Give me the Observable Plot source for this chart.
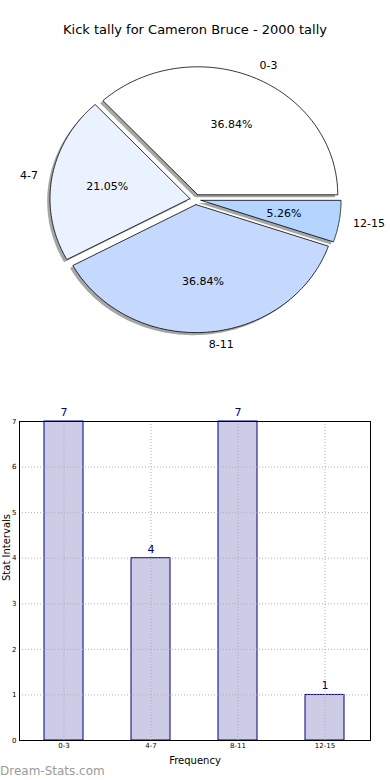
<!DOCTYPE html>
<html><head><meta charset="utf-8">
<script src="https://cdn.jsdelivr.net/npm/d3@7"></script>
<script src="https://cdn.jsdelivr.net/npm/@observablehq/plot@0.6"></script>
<style>
body{margin:0;width:390px;height:780px;background:#fff;font-family:"DejaVu Sans",sans-serif;position:relative;overflow:hidden}
#title{height:40px;text-align:center;font-size:13px;line-height:20px;padding-top:20px;box-sizing:border-box;color:#000}
#wm{position:absolute;left:0;top:763px;font-size:12px;line-height:16px;color:#9a9a9a}
svg{display:block}
</style></head><body>
<div id="title">Kick tally for Cameron Bruce - 2000 tally</div>
<div id="pie"></div>
<div id="bar"></div>
<div id="wm">Dream-Stats.com</div>
<script>
// ---- data ----
const categories = ["0-3", "4-7", "8-11", "12-15"];
const values = [7, 4, 7, 1];
const sliceColors = ["#ffffff", "#eaf2ff", "#c5d9ff", "#b3d5ff"];
const yTicks = [0, 1, 2, 3, 4, 5, 6, 7];

// ---- pie geometry (matplotlib-style: start at east, counter-clockwise) ----
const total = d3.sum(values);
const explode = 0.04;
const slices = [];
let cum = 0;
categories.forEach((c, i) => {
  const a0 = 2 * Math.PI * cum / total;
  cum += values[i];
  const a1 = 2 * Math.PI * cum / total;
  const mid = (a0 + a1) / 2;
  slices.push({cat: c, value: values[i], a0, a1, mid,
    ox: explode * Math.cos(mid), oy: explode * Math.sin(mid)});
});
function slicePoints(s, dx, dy) {
  const pts = [{cat: s.cat, x: s.ox + dx, y: s.oy + dy}];
  const n = 120;
  for (let k = 0; k <= n; k++) {
    const t = s.a0 + (s.a1 - s.a0) * k / n;
    pts.push({cat: s.cat, x: s.ox + dx + Math.cos(t), y: s.oy + dy + Math.sin(t)});
  }
  pts.push({cat: s.cat, x: s.ox + dx, y: s.oy + dy});
  return pts;
}
const slicePts = slices.flatMap(s => slicePoints(s, 0, 0));
const shadowPts = slices.flatMap(s => slicePoints(s, -0.02, -0.02));
const labels = slices.map(s => ({cat: s.cat,
  x: s.ox + 1.1 * Math.cos(s.mid), y: s.oy + 1.1 * Math.sin(s.mid), right: Math.cos(s.mid) >= 0}));
const pcts = slices.map(s => ({text: (100 * s.value / total).toFixed(2) + "%",
  x: s.ox + 0.6 * Math.cos(s.mid), y: s.oy + 0.6 * Math.sin(s.mid)}));

const pieW = 390, pieH = 350, cxPx = 195, cyPx = 159, rx = 140, ry = 128;
const pie = Plot.plot({
  width: pieW, height: pieH, margin: 0,
  style: {fontFamily: "DejaVu Sans", fontSize: "11px", background: "#fff", color: "#000"},
  x: {domain: [-cxPx / rx, (pieW - cxPx) / rx], axis: null},
  y: {domain: [-(pieH - cyPx) / ry, cyPx / ry], axis: null},
  color: {domain: categories, range: sliceColors},
  marks: [
    Plot.line(shadowPts, {x: "x", y: "y", z: "cat", fill: "#4d4d4d", fillOpacity: 0.5, stroke: "none", curve: "linear"}),
    Plot.line(slicePts, {x: "x", y: "y", z: "cat", fill: "cat", stroke: "#000", strokeWidth: 0.8, curve: "linear"}),
    Plot.text(labels.filter(d => d.right), {x: "x", y: "y", text: "cat", textAnchor: "start", fontSize: 11}),
    Plot.text(labels.filter(d => !d.right), {x: "x", y: "y", text: "cat", textAnchor: "end", fontSize: 11}),
    Plot.text(pcts, {x: "x", y: "y", text: "text", textAnchor: "middle", fontSize: 11})
  ]
});
document.getElementById("pie").appendChild(pie);

// ---- bar chart ----
const barData = categories.map((c, i) => ({cat: c, v: values[i]}));
const bar = Plot.plot({
  width: 390, height: 390, marginTop: 31, marginBottom: 40, marginLeft: 19, marginRight: 20,
  style: {fontFamily: "DejaVu Sans", background: "#fff", color: "#000"},
  x: {domain: categories, paddingInner: 0.55, paddingOuter: 0.275, label: null},
  y: {domain: [0, 7], label: null},
  marks: [
    Plot.barY(barData, {x: "cat", y: "v", fill: "#cccce6", stroke: "#000080", strokeWidth: 1}),
    Plot.gridY(yTicks, {stroke: "#aaa", strokeOpacity: 0.9, strokeDasharray: "1,2"}),
    Plot.gridX(categories, {stroke: "#aaa", strokeOpacity: 0.9, strokeDasharray: "1,2"}),
    Plot.text(barData, {x: "cat", y: "v", text: d => String(d.v), dy: -9, fill: "#000080", fontSize: 11}),
    Plot.frame({stroke: "#000", strokeWidth: 1}),
    Plot.axisY(yTicks, {tickSize: 0, tickPadding: 3, fontSize: 7, label: null}),
    Plot.axisX({tickSize: 0, tickPadding: 3, fontSize: 7, label: null}),
    Plot.text(["Frequency"], {frameAnchor: "bottom", lineAnchor: "middle", dy: 20, fontSize: 10}),
    Plot.text(["Stat Intervals"], {frameAnchor: "left", rotate: -90, dx: -13, fontSize: 10})
  ]
});
document.getElementById("bar").appendChild(bar);
</script>
</body></html>
